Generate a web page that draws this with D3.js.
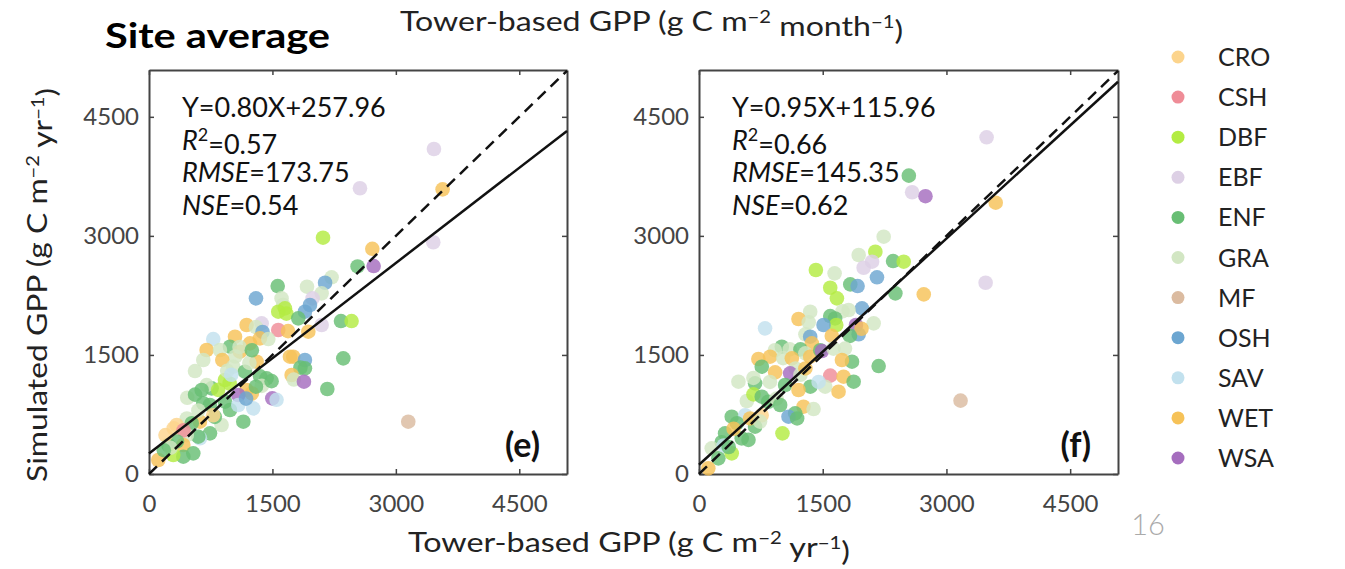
<!DOCTYPE html>
<html>
<head>
<meta charset="utf-8">
<script src="https://cdn.jsdelivr.net/npm/d3@7"></script>
<style>
  body { margin: 0; background: #fff; }
  svg text { font-family: Lato, "Noto Sans", sans-serif; }
</style>
</head>
<body>
<svg id="chart" width="1345" height="569"></svg>
<script>
// land cover types and their colours
const types = ["CRO", "CSH", "DBF", "EBF", "ENF", "GRA", "MF", "OSH", "SAV", "WET", "WSA"];
const typeColors = ["#fcd48c", "#ef8c97", "#b3ec42", "#ddd0e5", "#68be74", "#d2e6c3", "#dbbba0", "#6ca6d1", "#c2e1ee", "#f6c258", "#a56dbe"];

const xTicks = [0, 1500, 3000, 4500];
const yTicks = [0, 1500, 3000, 4500];

// fit: [slope, intercept]
const fitE = [0.80, 257.96];
const fitF = [0.95, 115.96];
// stats: equation, R2, RMSE, NSE
const statsE = ["0.80X+257.96", "0.57", "173.75", "0.54"];
const statsF = ["0.95X+115.96", "0.66", "145.35", "0.62"];

// [type, tower GPP, simulated GPP]
const pointsE = [
  ["EBF",3463,4095],["EBF",2564,3600],["WET",3568,3586],["EBF",3455,2920],["DBF",2115,2977],["WET",2714,2837],
  ["ENF",2535,2615],["WSA",2730,2620],["GRA",2219,2478],["OSH",2140,2410],["ENF",1564,2368],["GRA",1920,2360],
  ["GRA",2098,2276],["OSH",1300,2213],["GRA",1611,2213],["EBF",1988,2213],["GRA",1630,2130],["OSH",1956,2129],
  ["DBF",1652,2087],["DBF",1571,2045],["DBF",1670,2020],["OSH",1895,2045],["ENF",1814,1961],["ENF",2333,1927],
  ["DBF",2462,1927],["EBF",2098,1877],["WET",1186,1877],["EBF",1369,1898],["GRA",1300,1850],["OSH",1380,1790],
  ["CSH",1571,1814],["WET",1690,1800],["WET",1936,1793],["SAV",781,1700],["WET",1045,1730],["WET",1227,1646],
  ["WET",1348,1709],["GRA",1450,1700],["ENF",984,1604],["WET",700,1562],["GRA",862,1562],["WET",1105,1541],
  ["GRA",1050,1480],["GRA",660,1436],["WET",891,1436],["WET",1753,1478],["OSH",1895,1436],["ENF",2361,1457],
  ["GRA",559,1297],["GRA",1024,1352],["ENF",1166,1289],["WET",1308,1415],["GRA",1220,1400],["ENF",1895,1331],
  ["ENF",1840,1340],["WET",1713,1478],["WET",1733,1247],["GRA",1760,1190],["WSA",1883,1163],["ENF",1429,1205],
  ["ENF",1350,1230],["GRA",1370,1110],["ENF",1490,1170],["DBF",923,1184],["DBF",980,1140],["ENF",761,1079],
  ["GRA",700,1120],["ENF",640,1058],["DBF",840,1060],["WET",1186,1058],["WET",1250,1015],["ENF",2167,1071],
  ["WSA",1085,995],["WSA",1498,953],["SAV",1550,935],["GRA",465,961],["ENF",660,890],["ENF",740,870],
  ["ENF",923,911],["ENF",984,806],["SAV",1085,869],["SAV",1267,827],["ENF",1146,659],["GRA",882,617],
  ["ENF",800,720],["CRO",780,740],["WET",619,659],["GRA",460,700],["CRO",336,617],["ENF",520,640],
  ["CRO",300,575],["ENF",741,512],["SAV",620,450],["ENF",599,470],["GRA",460,490],["CSH",420,550],
  ["ENF",235,365],["WET",417,365],["ENF",340,410],["CRO",200,490],["ENF",538,260],["ENF",417,218],
  ["DBF",295,239],["WET",113,176],["GRA",260,330],["ENF",180,300],["MF",3151,659],["GRA",1100,1600],
  ["ENF",1250,1560],["GRA",950,1300],["SAV",1000,1250],["ENF",560,1000],["GRA",600,800],["OSH",1180,950],
  ["ENF",1300,1100]
];

const pointsF = [
  ["EBF",3487,4242],["ENF",2544,3759],["EBF",2584,3550],["WSA",2746,3500],["WET",3597,3418],["GRA",2239,2990],
  ["GRA",1936,2759],["DBF",2138,2801],["EBF",2098,2675],["EBF",1996,2599],["ENF",2353,2683],["DBF",2482,2675],
  ["DBF",1417,2570],["GRA",1644,2528],["OSH",2158,2478],["ENF",1834,2389],["OSH",1923,2368],["DBF",1591,2347],
  ["EBF",3475,2410],["WET",2725,2263],["ENF",2381,2276],["DBF",1672,2213],["OSH",1976,2087],["GRA",1814,2066],
  ["GRA",1348,2045],["GRA",1740,2050],["WET",1206,1953],["ENF",1591,1990],["ENF",1650,1960],["GRA",1330,1910],
  ["DBF",1664,1877],["OSH",1510,1877],["SAV",801,1835],["GRA",2118,1898],["WSA",1903,1877],["OSH",1936,1760],
  ["WET",1970,1830],["GRA",1290,1760],["OSH",1348,1730],["WET",1610,1740],["ENF",1830,1740],["WET",1368,1646],
  ["ENF",1004,1604],["GRA",1100,1570],["ENF",1230,1570],["GRA",920,1560],["WET",720,1449],["WET",862,1478],
  ["GRA",1020,1460],["WET",1126,1457],["GRA",1290,1520],["WET",1348,1478],["ENF",761,1352],["GRA",1170,1330],
  ["ENF",1470,1560],["WSA",1490,1549],["GRA",1630,1580],["GRA",1770,1580],["ENF",1855,1415],["WET",1733,1436],
  ["ENF",2178,1360],["WET",923,1281],["GRA",860,1160],["WSA",1105,1268],["GRA",1230,1250],["WET",1290,1330],
  ["CSH",1591,1239],["WET",1753,1226],["ENF",1875,1163],["GRA",478,1163],["ENF",680,1142],["GRA",660,1210],
  ["ENF",1044,1121],["ENF",1350,1100],["GRA",1530,1100],["SAV",1450,1160],["WET",1206,1058],["WET",1692,1037],
  ["GRA",580,920],["DBF",660,1003],["ENF",761,974],["ENF",840,910],["GRA",940,950],["ENF",984,869],
  ["WET",1267,848],["GRA",1389,818],["ENF",1166,764],["OSH",1085,722],["ENF",1190,700],["ENF",397,722],
  ["SAV",560,740],["ENF",460,640],["CRO",760,740],["ENF",680,596],["WET",620,700],["GRA",740,660],
  ["DBF",1012,512],["ENF",518,449],["ENF",600,430],["ENF",316,512],["WET",420,570],["ENF",275,400],
  ["GRA",154,323],["ENF",235,197],["DBF",397,260],["SAV",300,360],["ENF",360,340],["WET",113,71],
  ["MF",3171,924]
];

const svg = d3.select("#chart");
const color = d3.scaleOrdinal().domain(types).range(typeColors);
const axisColor = "#444";

// text with superscripts: segments are [text, isSup, isItalic]
function richText(sel, segs, supSize) {
  let up = false;
  segs.forEach(([t, sup, ital]) => {
    const ts = sel.append("tspan").text(t);
    if (sup && !up) { ts.attr("dy", "-0.45em"); up = true; }
    else if (!sup && up) { ts.attr("dy", "0.45em"); up = false; }
    if (sup) ts.style("font-size", supSize);
    if (ital) ts.style("font-style", "italic");
  });
}

function drawPanel(points, fit, stats, tag, left, right) {
  const top = 70, bottom = 474;
  const x = d3.scaleLinear().domain([0, 5080]).range([left, right]);
  const y = d3.scaleLinear().domain([0, 5090]).range([bottom, top]);
  const g = svg.append("g");

  const styleAxis = (a, showText) => {
    a.select(".domain").attr("stroke", axisColor).attr("stroke-width", 2);
    a.selectAll(".tick line").attr("stroke", axisColor).attr("stroke-width", 1.5);
    a.selectAll(".tick text").style("font-size", "24px").attr("fill", axisColor);
    if (!showText) a.selectAll(".tick text").remove();
  };

  g.append("g").attr("transform", `translate(0,${bottom})`)
    .call(d3.axisBottom(x).tickValues(xTicks).tickFormat(d3.format("d")).tickSizeInner(-5).tickSizeOuter(0).tickPadding(21))
    .call(a => styleAxis(a, true));
  g.append("g").attr("transform", `translate(0,${top})`)
    .call(d3.axisTop(x).tickValues(xTicks).tickSizeInner(-5).tickSizeOuter(0))
    .call(a => styleAxis(a, false));
  g.append("g").attr("transform", `translate(${left},0)`)
    .call(d3.axisLeft(y).tickValues(yTicks).tickFormat(d3.format("d")).tickSizeInner(-5).tickSizeOuter(0).tickPadding(10))
    .call(a => styleAxis(a, true));
  g.append("g").attr("transform", `translate(${right},0)`)
    .call(d3.axisRight(y).tickValues(yTicks).tickSizeInner(-5).tickSizeOuter(0))
    .call(a => styleAxis(a, false));

  // stats text
  const tx = left + 33;
  const lines = [
    [["Y=" + stats[0], false, false]],
    [["R", false, true], ["2", true, false], ["=" + stats[1], false, false]],
    [["RMSE", false, true], ["=" + stats[2], false, false]],
    [["NSE", false, true], ["=" + stats[3], false, false]]
  ];
  lines.forEach((segs, i) => {
    const t = g.append("text").attr("x", tx).attr("y", 117 + i * 32.5)
      .style("font-size", "27px").attr("fill", "#111");
    richText(t, segs, "18px");
  });

  // points
  g.append("g").selectAll("circle")
    .data(points)
    .enter().append("circle")
    .attr("cx", d => x(d[1]))
    .attr("cy", d => y(d[2]))
    .attr("r", 7.3)
    .attr("fill", d => color(d[0]))
    .attr("fill-opacity", 0.82);

  // 1:1 line and fitted line
  const xMax = x.domain()[1];
  const line = d3.line().x(d => x(d[0])).y(d => y(d[1]));
  g.append("path")
    .attr("d", line([[0, 0], [xMax, xMax]]))
    .attr("fill", "none").attr("stroke", "#111").attr("stroke-width", 2.5)
    .attr("stroke-dasharray", "11,7");
  g.append("path")
    .attr("d", line([[0, fit[1]], [xMax, fit[0] * xMax + fit[1]]]))
    .attr("fill", "none").attr("stroke", "#111").attr("stroke-width", 2.5);

  g.append("text")
    .attr("x", right - 27).attr("y", 457)
    .attr("text-anchor", "end")
    .style("font-size", "34px").style("font-weight", "bold")
    .attr("fill", "#111")
    .text(tag);
}

drawPanel(pointsE, fitE, statsE, "(e)", 149, 567);
drawPanel(pointsF, fitF, statsF, "(f)", 699, 1118);

// titles
svg.append("text").attr("x", 105).attr("y", 48)
  .attr("textLength", 225).attr("lengthAdjust", "spacingAndGlyphs")
  .style("font-size", "34px").style("font-weight", "bold").attr("fill", "#000")
  .text("Site average");

const topTitle = svg.append("text").attr("x", 400).attr("y", 31)
  .attr("textLength", 503).attr("lengthAdjust", "spacingAndGlyphs")
  .style("font-size", "27px").attr("fill", "#222");
richText(topTitle, [["Tower-based GPP (g C m"], ["\u22122", true], [" month"], ["\u22121", true], [")"]], "17px");

const xTitle = svg.append("text").attr("x", 408).attr("y", 552)
  .attr("textLength", 442).attr("lengthAdjust", "spacingAndGlyphs")
  .style("font-size", "27px").attr("fill", "#222");
richText(xTitle, [["Tower-based GPP (g C m"], ["\u22122", true], [" yr"], ["\u22121", true], [")"]], "17px");

const yTitle = svg.append("text")
  .attr("transform", "translate(47,482) rotate(-90)")
  .attr("textLength", 394).attr("lengthAdjust", "spacingAndGlyphs")
  .style("font-size", "27px").attr("fill", "#222");
richText(yTitle, [["Simulated GPP (g C m"], ["\u22122", true], [" yr"], ["\u22121", true], [")"]], "17px");

// legend
const legend = svg.append("g").selectAll("g")
  .data(types)
  .enter().append("g")
  .attr("transform", (d, i) => `translate(1178,${57 + i * 40.1})`);
legend.append("circle").attr("r", 6.5).attr("fill", d => color(d));
legend.append("text").attr("x", 40).attr("dy", "0.36em")
  .style("font-size", "25px").attr("fill", "#222").text(d => d);

// page number
svg.append("text").attr("x", 1148).attr("y", 535).attr("text-anchor", "middle")
  .style("font-size", "29px").style("font-weight", 300).attr("fill", "#aaa").text("16");
</script>
</body>
</html>
